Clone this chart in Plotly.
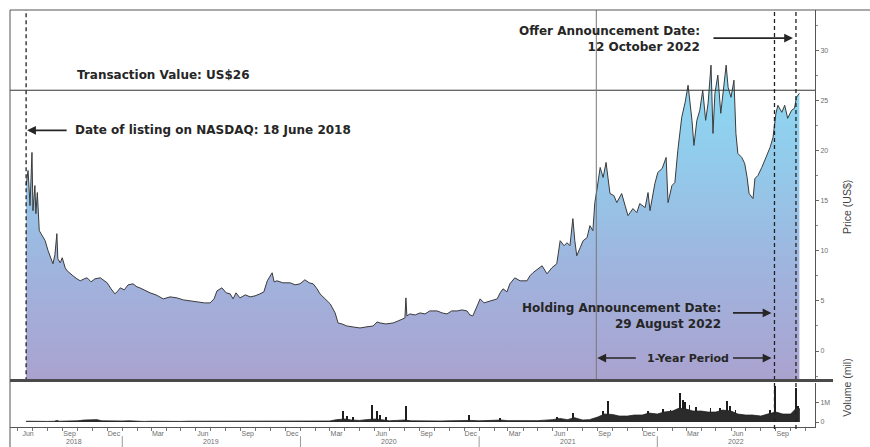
import plotly.graph_objects as go

# ---------------- data ----------------
price_dates = [
    "2018-06-18", "2018-06-22", "2018-06-26", "2018-06-30", "2018-07-02", "2018-07-06", "2018-07-08",
    "2018-07-11", "2018-07-15", "2018-07-21", "2018-07-27", "2018-08-02", "2018-08-06", "2018-08-12",
    "2018-08-16", "2018-08-20", "2018-08-22", "2018-08-27", "2018-08-31", "2018-09-06", "2018-09-10",
    "2018-09-16", "2018-09-22", "2018-09-30", "2018-10-07", "2018-10-15", "2018-10-21", "2018-10-29",
    "2018-11-06", "2018-11-17", "2018-11-25", "2018-12-01", "2018-12-09", "2018-12-17", "2018-12-23",
    "2018-12-28", "2019-01-05", "2019-01-13", "2019-01-23", "2019-01-31", "2019-02-06", "2019-02-17",
    "2019-02-27", "2019-03-11", "2019-03-26", "2019-04-09", "2019-04-23", "2019-05-06", "2019-05-20",
    "2019-06-03", "2019-06-18", "2019-06-30", "2019-07-08", "2019-07-14", "2019-07-24", "2019-08-02",
    "2019-08-10", "2019-08-16", "2019-08-22", "2019-08-30", "2019-09-10", "2019-09-20", "2019-09-30",
    "2019-10-10", "2019-10-18", "2019-10-25", "2019-11-04", "2019-11-08", "2019-11-14", "2019-11-26",
    "2019-12-11", "2019-12-21", "2019-12-31", "2020-01-10", "2020-01-19", "2020-01-27", "2020-02-04",
    "2020-02-10", "2020-02-20", "2020-03-02", "2020-03-12", "2020-03-18", "2020-03-26", "2020-04-05",
    "2020-04-18", "2020-05-02", "2020-05-14", "2020-05-29", "2020-06-06", "2020-06-12", "2020-06-24",
    "2020-07-09", "2020-07-19", "2020-07-29", "2020-08-02", "2020-08-04", "2020-08-06", "2020-08-12",
    "2020-08-23", "2020-09-02", "2020-09-12", "2020-09-22", "2020-10-07", "2020-10-17", "2020-10-27",
    "2020-11-06", "2020-11-17", "2020-11-27", "2020-12-07", "2020-12-13", "2020-12-19", "2020-12-28",
    "2021-01-03", "2021-01-11", "2021-01-24", "2021-02-07", "2021-02-13", "2021-02-19", "2021-02-27",
    "2021-03-05", "2021-03-15", "2021-03-26", "2021-04-09", "2021-04-15", "2021-04-21", "2021-05-02",
    "2021-05-10", "2021-05-20", "2021-05-30", "2021-06-09", "2021-06-16", "2021-06-24", "2021-06-30",
    "2021-07-06", "2021-07-12", "2021-07-16", "2021-07-20", "2021-07-27", "2021-08-02", "2021-08-10",
    "2021-08-16", "2021-08-22", "2021-08-26", "2021-08-30", "2021-09-06", "2021-09-12", "2021-09-18",
    "2021-09-26", "2021-10-04", "2021-10-10", "2021-10-20", "2021-10-27", "2021-11-02", "2021-11-12",
    "2021-11-20", "2021-11-26", "2021-12-07", "2021-12-13", "2021-12-17", "2021-12-27", "2022-01-02",
    "2022-01-11", "2022-01-19", "2022-01-23", "2022-01-31", "2022-02-06", "2022-02-12", "2022-02-20",
    "2022-02-27", "2022-03-05", "2022-03-09", "2022-03-13", "2022-03-17", "2022-03-23", "2022-03-29",
    "2022-04-04", "2022-04-10", "2022-04-15", "2022-04-21", "2022-04-25", "2022-04-29", "2022-05-05",
    "2022-05-11", "2022-05-15", "2022-05-22", "2022-05-26", "2022-06-01", "2022-06-07", "2022-06-11",
    "2022-06-15", "2022-06-23", "2022-06-29", "2022-07-04", "2022-07-08", "2022-07-16", "2022-07-20",
    "2022-07-26", "2022-08-03", "2022-08-12", "2022-08-20", "2022-08-26", "2022-09-01", "2022-09-05",
    "2022-09-13", "2022-09-19", "2022-09-25", "2022-10-03", "2022-10-09", "2022-10-13", "2022-10-19",
]
price_values = [
    16.5, 18.0, 14.5, 19.8, 14.0, 16.5, 13.7,
    15.8, 12.0, 11.5, 11.0, 10.0, 9.5, 8.7,
    9.6, 11.7, 9.2, 8.8, 9.3, 8.3, 8.0,
    7.7, 7.5, 7.2, 7.0, 7.2, 7.3, 6.9,
    7.2, 7.3, 7.0, 6.8, 6.2, 5.7, 6.0,
    6.3, 6.1, 6.6, 6.7, 6.4, 6.3, 6.0,
    5.8, 5.6, 5.2, 5.4, 5.3, 5.1, 5.0,
    4.9, 4.8, 4.8, 5.2, 6.0, 6.3, 5.8,
    5.7, 5.2, 5.8, 5.3, 5.6, 5.4, 5.5,
    5.7, 5.9, 7.0, 7.8, 6.9, 7.0, 6.8,
    6.8, 6.6, 6.7, 7.1, 6.8, 6.7, 6.2,
    5.7, 5.2, 4.7, 3.8, 2.8, 2.7, 2.5,
    2.4, 2.3, 2.4, 2.5, 2.9, 2.8, 2.7,
    2.8, 3.0, 3.2, 3.3, 5.3, 3.5, 3.7,
    3.6, 3.8, 3.7, 4.0, 4.0, 3.8, 3.7,
    4.0, 4.0, 4.1, 4.0, 3.6, 3.5, 4.5,
    5.2, 4.8, 5.0, 5.2, 5.8, 6.2, 5.9,
    6.7, 7.3, 7.0, 7.0, 7.5, 7.8, 8.2,
    8.5, 7.7, 8.3, 8.7, 11.0, 10.5, 10.8,
    10.5, 13.2, 11.0, 9.5, 10.3, 11.0, 11.3,
    12.5, 12.0, 14.8, 16.0, 18.3, 17.3, 18.8,
    15.7, 15.5, 14.8, 15.7, 14.5, 13.5, 14.2,
    13.8, 14.7, 14.3, 15.8, 14.0, 16.7, 17.8,
    18.2, 19.3, 14.8, 16.5, 16.8, 20.0, 23.3,
    24.8, 26.5, 24.7, 23.0, 20.5, 23.0, 24.0,
    26.0, 23.0, 24.7, 28.5, 21.7, 25.7, 27.5,
    23.7, 25.3, 28.5, 26.3, 25.3, 27.0, 21.7,
    19.7, 19.3, 18.7, 17.3, 15.7, 15.2, 17.2,
    17.5, 18.3, 19.3, 20.3, 21.3, 23.7, 24.5,
    23.8, 24.5, 23.2, 24.0, 24.2, 25.3, 25.7,
]

# volume (millions): underlying daily level and individual spikes
vol_base_dates = [
    "2018-06-18", "2018-07-01", "2018-07-15", "2018-08-01", "2018-08-15", "2018-08-20", "2018-08-25",
    "2018-09-15", "2018-10-01", "2018-10-15", "2018-11-01", "2018-11-10", "2018-11-20", "2018-12-15",
    "2019-01-01", "2019-01-15", "2019-02-01", "2019-02-15", "2019-03-01", "2019-03-15", "2019-04-01",
    "2019-04-15", "2019-05-01", "2019-05-15", "2019-06-01", "2019-06-15", "2019-07-01", "2019-07-15",
    "2019-08-01", "2019-08-15", "2019-09-01", "2019-09-15", "2019-10-01", "2019-10-15", "2019-11-01",
    "2019-11-15", "2019-12-01", "2019-12-15", "2020-01-01", "2020-01-15", "2020-02-01", "2020-02-15",
    "2020-03-01", "2020-03-15", "2020-04-01", "2020-04-15", "2020-05-01", "2020-05-15", "2020-06-01",
    "2020-06-15", "2020-07-01", "2020-07-15", "2020-08-01", "2020-08-15", "2020-09-01", "2020-09-15",
    "2020-10-01", "2020-10-15", "2020-11-01", "2020-11-15", "2020-12-01", "2020-12-15", "2021-01-01",
    "2021-01-15", "2021-02-01", "2021-02-15", "2021-03-01", "2021-03-15", "2021-04-01", "2021-04-15",
    "2021-05-01", "2021-05-15", "2021-06-01", "2021-06-15", "2021-07-01", "2021-07-15", "2021-08-01",
    "2021-08-15", "2021-09-01", "2021-09-15", "2021-10-01", "2021-10-15", "2021-11-01", "2021-11-15",
    "2021-12-01", "2021-12-15", "2022-01-01", "2022-01-15", "2022-02-01", "2022-02-15", "2022-03-01",
    "2022-03-15", "2022-04-01", "2022-04-15", "2022-05-01", "2022-05-15", "2022-06-01", "2022-06-15",
    "2022-07-01", "2022-07-15", "2022-08-01", "2022-08-15", "2022-09-01", "2022-09-15", "2022-10-01",
    "2022-10-15", "2022-10-20",
]
vol_base_values = [
    0.04, 0.03, 0.03, 0.03, 0.04, 0.08, 0.04,
    0.04, 0.06, 0.10, 0.12, 0.12, 0.06, 0.04,
    0.05, 0.06, 0.03, 0.03, 0.04, 0.03, 0.04,
    0.04, 0.03, 0.04, 0.04, 0.05, 0.04, 0.05,
    0.04, 0.05, 0.04, 0.03, 0.04, 0.05, 0.04,
    0.03, 0.04, 0.03, 0.03, 0.04, 0.03, 0.04,
    0.05, 0.12, 0.15, 0.10, 0.08, 0.12, 0.15,
    0.12, 0.06, 0.08, 0.10, 0.06, 0.05, 0.08,
    0.06, 0.05, 0.06, 0.07, 0.05, 0.08, 0.06,
    0.07, 0.08, 0.10, 0.07, 0.08, 0.06, 0.07,
    0.07, 0.08, 0.12, 0.18, 0.12, 0.22, 0.10,
    0.12, 0.25, 0.40, 0.38, 0.30, 0.30, 0.35,
    0.35, 0.45, 0.40, 0.50, 0.55, 0.70, 0.65,
    0.55, 0.55, 0.50, 0.50, 0.60, 0.55, 0.40,
    0.35, 0.35, 0.30, 0.40, 0.50, 0.40, 0.40,
    0.75, 0.65,
]
vol_spike_dates = [
    "2020-03-28", "2020-04-05", "2020-04-18", "2020-05-27", "2020-06-06", "2020-06-12", "2020-06-24",
    "2020-08-04", "2020-12-11", "2021-02-13", "2021-06-09", "2021-07-12", "2021-09-12", "2021-09-22",
    "2021-12-13", "2022-01-13", "2022-01-28", "2022-02-16", "2022-02-22", "2022-02-26", "2022-03-08",
    "2022-03-22", "2022-04-20", "2022-05-10", "2022-05-24", "2022-05-30", "2022-06-10", "2022-08-20",
    "2022-08-30", "2022-10-12", "2022-10-16",
]
vol_spike_values = [
    0.55, 0.30, 0.25, 0.85, 0.55, 0.35, 0.25,
    0.80, 0.35, 0.18, 0.22, 0.45, 0.55, 1.05,
    0.55, 0.65, 0.60, 1.45, 1.10, 1.00, 0.85,
    0.75, 0.70, 0.70, 1.05, 0.80, 0.60, 0.60,
    1.80, 1.70, 0.80,
]

price_ticks = [0, 5, 10, 15, 20, 25, 30]
month_tick_dates = [
    "2018-06-22", "2018-09-15", "2018-12-15", "2019-03-15", "2019-06-15", "2019-09-15",
    "2019-12-15", "2020-03-15", "2020-06-15", "2020-09-15", "2020-12-15", "2021-03-15",
    "2021-06-15", "2021-09-15", "2021-12-15", "2022-03-15", "2022-06-15", "2022-09-15",
]
month_tick_text = ["Jun", "Sep", "Dec", "Mar", "Jun", "Sep", "Dec", "Mar", "Jun", "Sep",
                   "Dec", "Mar", "Jun", "Sep", "Dec", "Mar", "Jun", "Sep"]
year_label_dates = ["2018-09-24", "2019-07-02", "2020-07-01", "2021-07-02", "2022-06-11"]
year_labels = ["2018", "2019", "2020", "2021", "2022"]
year_boundaries = ["2019-01-01", "2020-01-01", "2021-01-01", "2022-01-01"]

transaction_value = 26
listing_date = "2018-06-18"
holding_date = "2022-08-29"
offer_date = "2022-10-12"
period_start = "2021-08-29"

# ---------------- figure ----------------
DARK = "#262626"
TICK = "#6e6e6e"
FONT = "Liberation Sans, Arial, sans-serif"
BOLD = "DejaVu Sans, Liberation Sans, sans-serif"

fig = go.Figure()

# baseline for the price fill (bottom of the price panel)
fig.add_trace(go.Scatter(x=[price_dates[0], price_dates[-1]], y=[-3, -3], mode="lines",
                         line=dict(width=0, color="rgba(0,0,0,0)"), hoverinfo="skip",
                         showlegend=False, xaxis="x", yaxis="y"))
fig.add_trace(go.Scatter(
    x=price_dates, y=price_values, mode="lines", fill="tonexty",
    line=dict(color="#3a3a3a", width=1),
    fillgradient=dict(type="vertical", start=-3, stop=27,
                      colorscale=[[0, "#aaa2cf"], [0.35, "#a0b3dd"], [0.7, "#93c9ea"], [1, "#8cd8f2"]]),
    showlegend=False, xaxis="x", yaxis="y"))

fig.add_trace(go.Scatter(
    x=vol_base_dates, y=vol_base_values, mode="lines", fill="tozeroy",
    line=dict(color="#222222", width=0.8), fillcolor="#2b2b2b",
    showlegend=False, xaxis="x2", yaxis="y2"))
fig.add_trace(go.Bar(
    x=vol_spike_dates, y=vol_spike_values, width=1.6 * 86400000,
    marker=dict(color="#1e1e1e", line=dict(width=0)),
    showlegend=False, xaxis="x2", yaxis="y2"))

xrange = ["2018-05-16", "2022-11-20"]

fig.update_layout(
    width=870, height=447,
    margin=dict(l=10, r=55, t=10, b=20),
    paper_bgcolor="white", plot_bgcolor="white",
    font=dict(family=FONT, color=TICK, size=7),
    bargap=0,
    xaxis=dict(domain=[0, 1], range=xrange, type="date", anchor="y", matches="x2",
               showticklabels=False, ticks="", showgrid=False, zeroline=False, showline=False,
               automargin=False),
    yaxis=dict(domain=[0.11, 1], range=[-3, 34], side="right", anchor="x", automargin=False,
               tickvals=price_ticks, ticks="outside", ticklen=3, tickcolor="#666",
               tickfont=dict(size=7, color=TICK), showgrid=False, zeroline=False,
               showline=True, linecolor="#555", linewidth=1,
               minor=dict(dtick=2.5, ticks="outside", ticklen=2, tickcolor="#888")),
    xaxis2=dict(domain=[0, 1], range=xrange, type="date", anchor="y2", automargin=False,
                tickmode="array", tickvals=month_tick_dates, ticktext=month_tick_text,
                ticks="", tickfont=dict(size=7, color=TICK),
                showgrid=False, zeroline=False, showline=True, linecolor="#555", linewidth=1,
                minor=dict(tickmode="linear", tick0="2018-06-01", dtick="M1", ticks="outside",
                           ticklen=3, tickcolor="#777")),
    yaxis2=dict(domain=[0, 0.105], range=[-0.25, 1.95], side="right", anchor="x2",
                automargin=False,
                tickvals=[0, 1], ticktext=["0", "1M"], ticks="outside", ticklen=3,
                tickcolor="#666", tickfont=dict(size=7, color=TICK),
                showgrid=False, zeroline=False, showline=True, linecolor="#555", linewidth=1),
)

# reference lines
fig.add_shape(type="line", xref="paper", yref="y", x0=0, x1=1, y0=transaction_value,
              y1=transaction_value, line=dict(color="#333", width=1))
fig.add_shape(type="line", xref="x", yref="paper", x0=listing_date, x1=listing_date,
              y0=0.11, y1=1, line=dict(color="#222", width=1.3, dash="4px,3px"))
for d in (holding_date, offer_date):
    fig.add_shape(type="line", xref="x", yref="paper", x0=d, x1=d, y0=-0.005, y1=1,
                  line=dict(color="#222", width=1.3, dash="4px,3px"))
fig.add_shape(type="line", xref="x", yref="paper", x0=period_start, x1=period_start,
              y0=0.11, y1=1, line=dict(color="#777", width=1))

# frame lines
fig.add_shape(type="line", xref="paper", yref="paper", x0=0, x1=1.0224, y0=0.1115, y1=0.1115,
              line=dict(color="#4a4a4a", width=3))
fig.add_shape(type="line", xref="paper", yref="paper", x0=0, x1=1.07, y0=1, y1=1,
              line=dict(color="#555", width=1))
fig.add_shape(type="line", xref="paper", yref="paper", x0=0, x1=0, y0=-0.06, y1=1,
              line=dict(color="#555", width=1))
for d in year_boundaries:
    fig.add_shape(type="line", xref="x", yref="paper", x0=d, x1=d, y0=-0.022, y1=-0.06,
                  line=dict(color="#999", width=1))
for d, t in zip(year_label_dates, year_labels):
    fig.add_annotation(x=d, xref="x", y=-0.034, yref="paper", text=t, showarrow=False,
                       font=dict(size=7, color=TICK), yanchor="middle")

# text annotations
afont = dict(family=BOLD, size=12, color=DARK, weight="bold")
fig.add_annotation(x="2018-09-26", y=27.5, xref="x", yref="y", text="Transaction Value: US$26",
                   showarrow=False, xanchor="left", yanchor="middle", font=afont)
fig.add_annotation(x="2018-09-22", y=22.0, xref="x", yref="y",
                   text="Date of listing on NASDAQ: 18 June 2018",
                   showarrow=False, xanchor="left", yanchor="middle", font=afont)
fig.add_annotation(x=listing_date, y=22.0, xref="x", yref="y", text="", showarrow=True,
                   ax=42, ay=0, arrowhead=2, arrowsize=1.1, arrowwidth=1.6, arrowcolor=DARK,
                   standoff=1)
fig.add_annotation(x="2022-04-02", y=31.1, xref="x", yref="y",
                   text="Offer Announcement Date:<br>12 October 2022", align="right",
                   showarrow=False, xanchor="right", yanchor="middle", font=afont)
fig.add_annotation(x=offer_date, y=31.2, xref="x", yref="y", text="", showarrow=True,
                   ax=-84, ay=0, arrowhead=2, arrowsize=1.1, arrowwidth=1.6, arrowcolor=DARK,
                   standoff=3)
fig.add_annotation(x="2022-05-15", y=3.5, xref="x", yref="y",
                   text="Holding Announcement Date:<br>29 August 2022", align="right",
                   showarrow=False, xanchor="right", yanchor="middle", font=afont)
fig.add_annotation(x=holding_date, y=3.8, xref="x", yref="y", text="", showarrow=True,
                   ax=-43, ay=0, arrowhead=2, arrowsize=1.1, arrowwidth=1.6, arrowcolor=DARK,
                   standoff=3)
fig.add_annotation(x="2022-03-05", y=-0.7, xref="x", yref="y", text="1-Year Period",
                   showarrow=False, xanchor="center", yanchor="middle",
                   font=dict(family=BOLD, size=11, color=DARK, weight="bold"))
fig.add_annotation(x=period_start, y=-0.7, xref="x", yref="y", text="", showarrow=True,
                   ax=41, ay=0, arrowhead=2, arrowsize=1.1, arrowwidth=1.6, arrowcolor=DARK,
                   standoff=1)
fig.add_annotation(x=holding_date, y=-0.7, xref="x", yref="y", text="", showarrow=True,
                   ax=-43, ay=0, arrowhead=2, arrowsize=1.1, arrowwidth=1.6, arrowcolor=DARK,
                   standoff=3)

# axis titles
fig.add_annotation(x=1.0497, y=0.5276, xref="paper", yref="paper", text="Price (US$)",
                   textangle=-90, showarrow=False, font=dict(size=10.5, color="#444"))
fig.add_annotation(x=1.0497, y=0.02, xref="paper", yref="paper", text="Volume (mil)",
                   textangle=-90, showarrow=False, font=dict(size=10.5, color="#444"))

fig.write_html("out.html", config={"displayModeBar": False},
               post_script="document.body.style.margin='0';document.body.style.padding='0';")
